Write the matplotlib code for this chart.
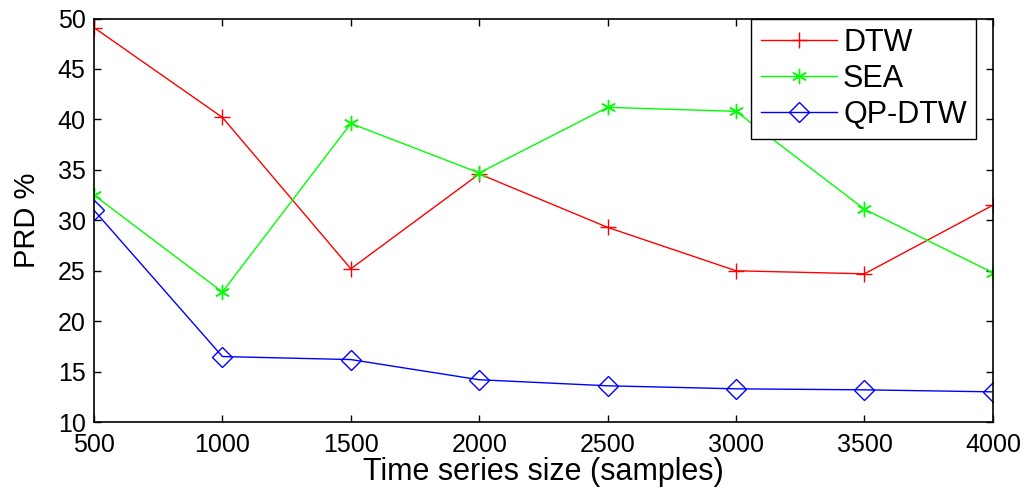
"""PRD vs time series size — line chart in MATLAB style."""

import matplotlib
matplotlib.use("Agg")
import matplotlib.pyplot as plt

sizes = [500, 1000, 1500, 2000, 2500, 3000, 3500, 4000]
dtw = [49.1, 40.2, 25.2, 34.6, 29.3, 25.0, 24.7, 31.5]
sea = [32.5, 22.9, 39.6, 34.7, 41.2, 40.8, 31.1, 24.8]
qp_dtw = [31.0, 16.5, 16.2, 14.2, 13.6, 13.3, 13.2, 13.0]

plt.rcParams["font.family"] = ["Liberation Sans", "DejaVu Sans"]

fig = plt.figure(figsize=(10.25, 4.88), dpi=100)
ax = fig.add_axes([0.0917, 0.135, 0.877, 0.827])

ax.plot(sizes, dtw, color="#ff0000", lw=1, marker="+", ms=12, mew=1, label="DTW")
ax.plot(sizes, sea, color="#00ff00", lw=1, marker=(6, 2, 0), ms=11, mew=1, label="SEA")
ax.plot(sizes, qp_dtw, color="#0000ff", lw=1, marker="D", ms=10, mfc="none", mew=1,
        label="QP-DTW")

ax.set_xlim(500, 4000)
ax.set_ylim(10, 50)
ax.set_xticks(sizes)
ax.set_yticks(range(10, 51, 5))
ax.tick_params(direction="in", top=True, right=True, length=5, width=1,
               labelsize=18)
ax.tick_params(axis="x", pad=8)
ax.tick_params(axis="y", pad=6)
for s in ax.spines.values():
    s.set_linewidth(1.2)
    s.set_color("black")

ax.set_xlabel("Time series size (samples)", fontsize=22, labelpad=0)
ax.set_ylabel("PRD %", fontsize=21, labelpad=12)

leg = ax.legend(loc="upper right", bbox_to_anchor=(0.981, 1.0), fontsize=22,
                frameon=True, fancybox=False, edgecolor="black", framealpha=1,
                handlelength=2.5, handletextpad=0.2, borderpad=0.3,
                labelspacing=0.2, borderaxespad=0)
leg.get_frame().set_linewidth(1)

fig.savefig("out.png", dpi=100)
